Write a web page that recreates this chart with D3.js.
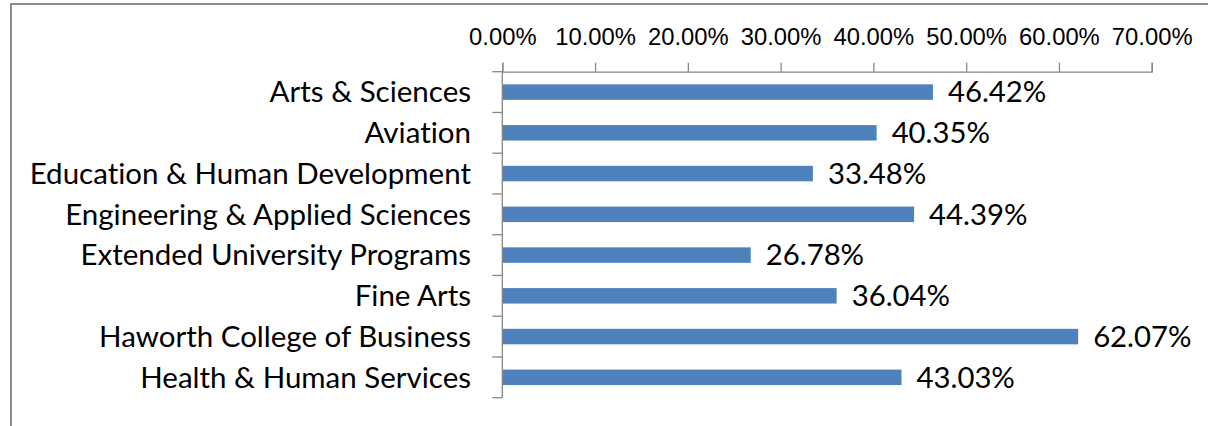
<!DOCTYPE html>
<html>
<head>
<meta charset="utf-8">
<script src="https://cdn.jsdelivr.net/npm/d3@7"></script>
<style>
	body { margin: 0; background: #fff; }
	svg { display: block; font-family: Lato, "Open Sans", sans-serif; font-variant-ligatures: none; }
	.axis path, .axis line { stroke: #868686; stroke-width: 1.3; fill: none; }
	.axis text { fill: #000; font-size: 23.8px; }
	.cat-label { font-size: 29.5px; fill: #000; }
	.value-label { font-size: 29.3px; fill: #000; }
	.bar { fill: #4f81bd; }
</style>
</head>
<body>
<svg id="chart" width="1208" height="426"></svg>
<script>

var categories = [
	"Arts & Sciences",
	"Aviation",
	"Education & Human Development",
	"Engineering & Applied Sciences",
	"Extended University Programs",
	"Fine Arts",
	"Haworth College of Business",
	"Health & Human Services"
];

var values = [46.42, 40.35, 33.48, 44.39, 26.78, 36.04, 62.07, 43.03];

var tickValues = [0, 10, 20, 30, 40, 50, 60, 70];

(function() {

	var svg = d3.select("#chart");
	var left = 502.3, right = 1151.7, top = 71.7, bottom = 397.7;
	var fmt = function(v) { return v.toFixed(2) + "%"; };

	// outer chart border, runs off the right and bottom edges
	svg.append('rect')
		.attr('x', 11)
		.attr('y', 4)
		.attr('width', 1230)
		.attr('height', 460)
		.attr('fill', 'none')
		.attr('stroke', '#8c8c8c')
		.attr('stroke-width', 2);

	var x = d3.scaleLinear()
		.domain([0, 70])
		.range([left, right]);

	// band scale for the category slots (ticks sit on slot edges)
	var slot = d3.scaleBand()
		.domain(categories)
		.range([top, bottom]);

	var y = d3.scaleBand()
		.domain(categories)
		.range([top, bottom])
		.paddingInner(0.62)
		.paddingOuter(0.31);

	var rows = categories.map(function(c, i) { return { cat: c, value: values[i] }; });

	svg.append('g')
		.attr('class', 'bars')
		.selectAll('rect')
		.data(rows)
		.enter()
		.append('rect')
			.attr('class', 'bar')
			.attr('x', x(0))
			.attr('y', function(d) { return y(d.cat); })
			.attr('width', function(d) { return x(d.value) - x(0); })
			.attr('height', y.bandwidth());

	svg.append('g')
		.attr('class', 'axis x-axis')
		.attr('transform', 'translate(0,' + top + ')')
		.call(d3.axisTop(x)
			.tickValues(tickValues)
			.tickFormat(fmt)
			.tickSize(9)
			.tickSizeOuter(9)
			.tickPadding(18));

	var yAxis = svg.append('g').attr('class', 'axis y-axis');
	yAxis.append('line')
		.attr('x1', x(0)).attr('x2', x(0))
		.attr('y1', top).attr('y2', bottom);
	yAxis.selectAll('.tick')
		.data(categories.concat(['end']))
		.enter()
		.append('line')
			.attr('class', 'tick')
			.attr('x1', x(0) - 10)
			.attr('x2', x(0))
			.attr('y1', function(d) { return d == 'end' ? bottom : slot(d); })
			.attr('y2', function(d) { return d == 'end' ? bottom : slot(d); });

	svg.append('g')
		.selectAll('text')
		.data(rows)
		.enter()
		.append('text')
			.attr('class', 'cat-label')
			.attr('text-anchor', 'end')
			.attr('x', 471)
			.attr('y', function(d) { return slot(d.cat) + slot.bandwidth() / 2; })
			.attr('dy', '0.35em')
			.text(function(d) { return d.cat; });

	svg.append('g')
		.selectAll('text')
		.data(rows)
		.enter()
		.append('text')
			.attr('class', 'value-label')
			.attr('x', function(d) { return x(d.value) + 15; })
			.attr('y', function(d) { return y(d.cat) + y.bandwidth() / 2; })
			.attr('dy', '0.35em')
			.text(function(d) { return fmt(d.value); });

})();
</script>
</body>
</html>
